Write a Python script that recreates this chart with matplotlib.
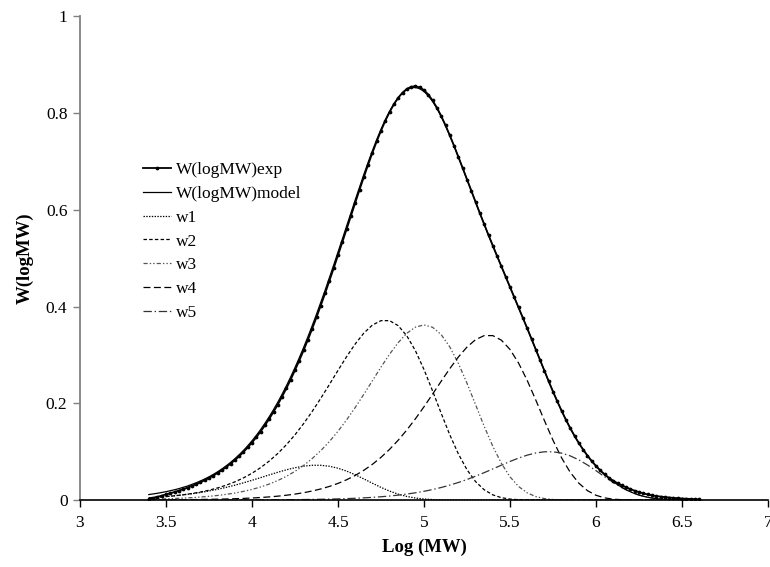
import numpy as np
import matplotlib
matplotlib.use("Agg")
import matplotlib.pyplot as plt
from matplotlib.ticker import FixedLocator, FuncFormatter

plt.rcParams["font.family"] = ["Liberation Serif", "DejaVu Serif"]
plt.rcParams["lines.scale_dashes"] = False

# log(MW) grids: measured curve and model on a fine grid, Flory components on a coarse grid
x_fine = np.round(np.arange(3.4, 6.6 + 1e-9, 0.025), 3)
x_coarse = np.round(np.arange(3.4, 6.6 + 1e-9, 0.05), 3)

w_exp = [
    0.0015, 0.0040, 0.0064, 0.0090, 0.0114, 0.0139, 0.0166, 0.0194,
    0.0224, 0.0255, 0.0290, 0.0326, 0.0366, 0.0408, 0.0454, 0.0504,
    0.0558, 0.0617, 0.0680, 0.0749, 0.0824, 0.0904, 0.0991, 0.1086,
    0.1188, 0.1297, 0.1415, 0.1542, 0.1677, 0.1821, 0.1974, 0.2137,
    0.2309, 0.2491, 0.2683, 0.2883, 0.3093, 0.3312, 0.3541, 0.3777,
    0.4021, 0.4271, 0.4529, 0.4792, 0.5058, 0.5328, 0.5600, 0.5873,
    0.6143, 0.6412, 0.6675, 0.6931, 0.7177, 0.7413, 0.7634, 0.7837,
    0.8021, 0.8181, 0.8316, 0.8422, 0.8499, 0.8543, 0.8554, 0.8531,
    0.8474, 0.8382, 0.8260, 0.8112, 0.7939, 0.7746, 0.7537, 0.7320,
    0.7093, 0.6861, 0.6626, 0.6390, 0.6157, 0.5926, 0.5699, 0.5476,
    0.5257, 0.5042, 0.4829, 0.4618, 0.4407, 0.4195, 0.3982, 0.3767,
    0.3550, 0.3330, 0.3109, 0.2889, 0.2669, 0.2453, 0.2242, 0.2039,
    0.1844, 0.1660, 0.1487, 0.1326, 0.1178, 0.1043, 0.0919, 0.0806,
    0.0703, 0.0610, 0.0531, 0.0459, 0.0400, 0.0347, 0.0302, 0.0263,
    0.0225, 0.0192, 0.0163, 0.0137, 0.0115, 0.0097, 0.0082, 0.0070,
    0.0060, 0.0051, 0.0044, 0.0037, 0.0031, 0.0026, 0.0021, 0.0017,
    0.0014,
]

w_model = [
    0.0112, 0.0125, 0.0139, 0.0155, 0.0172, 0.0191, 0.0212, 0.0235,
    0.0261, 0.0289, 0.0321, 0.0355, 0.0393, 0.0434, 0.0479, 0.0529,
    0.0583, 0.0642, 0.0706, 0.0776, 0.0852, 0.0934, 0.1023, 0.1120,
    0.1224, 0.1335, 0.1455, 0.1584, 0.1721, 0.1867, 0.2022, 0.2187,
    0.2361, 0.2545, 0.2739, 0.2941, 0.3153, 0.3374, 0.3604, 0.3841,
    0.4086, 0.4337, 0.4595, 0.4858, 0.5124, 0.5393, 0.5664, 0.5935,
    0.6203, 0.6469, 0.6728, 0.6980, 0.7221, 0.7451, 0.7665, 0.7861,
    0.8037, 0.8189, 0.8316, 0.8415, 0.8485, 0.8523, 0.8529, 0.8503,
    0.8446, 0.8357, 0.8240, 0.8097, 0.7929, 0.7741, 0.7537, 0.7320,
    0.7093, 0.6861, 0.6626, 0.6390, 0.6157, 0.5926, 0.5699, 0.5476,
    0.5257, 0.5042, 0.4829, 0.4618, 0.4407, 0.4195, 0.3982, 0.3767,
    0.3550, 0.3330, 0.3109, 0.2889, 0.2669, 0.2453, 0.2242, 0.2039,
    0.1844, 0.1660, 0.1487, 0.1326, 0.1178, 0.1043, 0.0919, 0.0806,
    0.0703, 0.0610, 0.0526, 0.0449, 0.0380, 0.0317, 0.0262, 0.0213,
    0.0170, 0.0133, 0.0103, 0.0077, 0.0057, 0.0041, 0.0029, 0.0020,
    0.0013, 0.0008, 0.0005, 0.0003, 0.0002, 0.0001, 0.0001, 0.0000,
    0.0000,
]

w1 = [
    0.00483, 0.00592, 0.00725, 0.00883, 0.01072, 0.01295, 0.01557, 0.01862,
    0.02212, 0.02610, 0.03055, 0.03544, 0.04071, 0.04623, 0.05186, 0.05735,
    0.06243, 0.06677, 0.07000, 0.07177, 0.07176, 0.06976, 0.06571, 0.05974,
    0.05221, 0.04363, 0.03469, 0.02607, 0.01840, 0.01210, 0.00735, 0.00409,
    0.00206, 0.00093, 0.00037, 0.00013, 0.00004, 0.00001, 0.0, 0.0,
    0.0, 0.0, 0.0, 0.0, 0.0, 0.0, 0.0, 0.0,
    0.0, 0.0, 0.0, 0.0, 0.0, 0.0, 0.0, 0.0,
    0.0, 0.0, 0.0, 0.0, 0.0, 0.0, 0.0, 0.0,
    0.0,
]

w2 = [
    0.00449, 0.00560, 0.00697, 0.00866, 0.01074, 0.01331, 0.01645, 0.02028,
    0.02495, 0.03061, 0.03744, 0.04562, 0.05538, 0.06691, 0.08046, 0.09620,
    0.11429, 0.13485, 0.15783, 0.18311, 0.21031, 0.23886, 0.26793, 0.29631,
    0.32257, 0.34497, 0.36166, 0.37079, 0.37075, 0.36042, 0.33951, 0.30867,
    0.26973, 0.22540, 0.17921, 0.13470, 0.09507, 0.06253, 0.03799, 0.02112,
    0.01062, 0.00478, 0.00190, 0.00065, 0.00019, 0.00005, 0.00001, 0.0,
    0.0, 0.0, 0.0, 0.0, 0.0, 0.0, 0.0, 0.0,
    0.0, 0.0, 0.0, 0.0, 0.0, 0.0, 0.0, 0.0,
    0.0,
]

w3 = [
    0.00161, 0.00201, 0.00251, 0.00314, 0.00392, 0.00488, 0.00608, 0.00756,
    0.00939, 0.01164, 0.01440, 0.01778, 0.02190, 0.02691, 0.03296, 0.04022,
    0.04894, 0.05926, 0.07146, 0.08569, 0.10212, 0.12091, 0.14212, 0.16562,
    0.19121, 0.21839, 0.24659, 0.27472, 0.30151, 0.32540, 0.34466, 0.35740,
    0.36200, 0.35706, 0.34185, 0.31649, 0.28227, 0.24139, 0.19693, 0.15232,
    0.11105, 0.07574, 0.04790, 0.02790, 0.01477, 0.00704, 0.00298, 0.00110,
    0.00035, 0.00010, 0.00002, 0.0, 0.0, 0.0, 0.0, 0.0,
    0.0, 0.0, 0.0, 0.0, 0.0, 0.0, 0.0, 0.0,
    0.0,
]

w4 = [
    0.00028, 0.00035, 0.00044, 0.00055, 0.00069, 0.00086, 0.00108, 0.00135,
    0.00169, 0.00211, 0.00264, 0.00330, 0.00412, 0.00513, 0.00639, 0.00794,
    0.00985, 0.01220, 0.01508, 0.01859, 0.02287, 0.02806, 0.03432, 0.04182,
    0.05076, 0.06134, 0.07375, 0.08818, 0.10477, 0.12361, 0.14468, 0.16785,
    0.19278, 0.21896, 0.24560, 0.27162, 0.29569, 0.31623, 0.33152, 0.33990,
    0.33985, 0.33038, 0.31121, 0.28295, 0.24725, 0.20662, 0.16428, 0.12348,
    0.08715, 0.05732, 0.03482, 0.01936, 0.00974, 0.00438, 0.00174, 0.00060,
    0.00018, 0.00004, 0.00001, 0.0, 0.0, 0.0, 0.0, 0.0,
    0.0,
]

w5 = [
    0.00001, 0.00002, 0.00002, 0.00003, 0.00004, 0.00005, 0.00007, 0.00009,
    0.00011, 0.00013, 0.00016, 0.00020, 0.00025, 0.00032, 0.00040, 0.00050,
    0.00062, 0.00078, 0.00097, 0.00121, 0.00151, 0.00187, 0.00233, 0.00289,
    0.00358, 0.00442, 0.00545, 0.00671, 0.00823, 0.01006, 0.01226, 0.01489,
    0.01799, 0.02163, 0.02586, 0.03072, 0.03625, 0.04243, 0.04922, 0.05654,
    0.06421, 0.07202, 0.07965, 0.08671, 0.09274, 0.09722, 0.09968, 0.09966,
    0.09689, 0.09127, 0.08298, 0.07251, 0.06059, 0.04818, 0.03621, 0.02556,
    0.01681, 0.01021, 0.00568, 0.00286, 0.00129, 0.00051, 0.00018, 0.00005,
    0.00001,
]

x_ticks = [3, 3.5, 4, 4.5, 5, 5.5, 6, 6.5, 7]
y_ticks = [0, 0.2, 0.4, 0.6, 0.8, 1]

fig = plt.figure(figsize=(7.7, 5.67), dpi=100)
ax = fig.add_axes([80 / 770, 1 - 500 / 567, 688 / 770, 483.7 / 567])

h_exp, = ax.plot(x_fine, w_exp, color="black", lw=1.3, marker="o", ms=2.7,
                 mew=0, label="W(logMW)exp", zorder=6)
h_mod, = ax.plot(x_fine, w_model, color="black", lw=0.9,
                 label="W(logMW)model", zorder=5)
h1, = ax.plot(x_coarse, w1, color="black", lw=0.9, ls=(0, (1, 1)), label="w1")
h2, = ax.plot(x_coarse, w2, color="black", lw=0.9, ls=(0, (2.5, 1.6)), label="w2")
h3, = ax.plot(x_coarse, w3, color="#555555", lw=0.9,
              ls=(0, (3, 1.5, 1, 1.5, 1, 1.5)), label="w3")
h4, = ax.plot(x_coarse, w4, color="black", lw=0.9, ls=(0, (5, 2.5)), label="w4")
h5, = ax.plot(x_coarse, w5, color="#333333", lw=0.9,
              ls=(0, (6, 2, 1, 2)), label="w5")

ax.set_xlim(3, 7)
ax.set_ylim(0, 1)
ax.xaxis.set_major_locator(FixedLocator(x_ticks))
ax.yaxis.set_major_locator(FixedLocator(y_ticks))
fmt = FuncFormatter(lambda v, p: f"{v:g}")
ax.xaxis.set_major_formatter(fmt)
ax.yaxis.set_major_formatter(fmt)

for side in ("top", "right"):
    ax.spines[side].set_visible(False)
ax.spines["left"].set_color("#808080")
ax.spines["left"].set_linewidth(1.3)
ax.spines["bottom"].set_color("black")
ax.spines["bottom"].set_linewidth(1.2)

ax.tick_params(axis="y", direction="out", length=5, width=1.0, color="#808080",
               labelsize=12.5, pad=4)
ax.tick_params(axis="x", direction="out", length=5, width=1.0, color="black",
               labelsize=12.5, pad=6)

ax.set_xlabel("Log (MW)", fontsize=13.5, fontweight="bold", labelpad=5)
ax.set_ylabel("W(logMW)", fontsize=13.5, fontweight="bold", labelpad=9)

ax.legend(handles=[h_exp, h_mod, h1, h2, h3, h4, h5], loc="upper left",
          bbox_to_anchor=((143 - 80) / 688, (500 - 162) / 483.7),
          frameon=False, fontsize=12.5, handlelength=1.6, handletextpad=0.3,
          labelspacing=0.44, borderpad=0, borderaxespad=0, numpoints=1)

fig.savefig("out.png", dpi=100)
